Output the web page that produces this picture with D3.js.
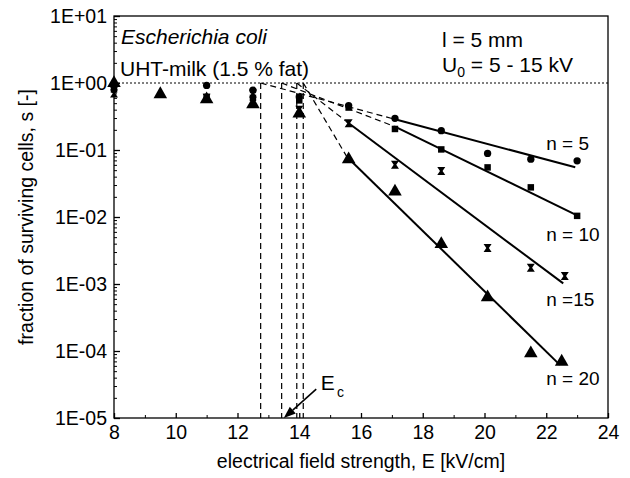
<!DOCTYPE html>
<html>
<head>
<meta charset="utf-8">
<script src="https://cdn.jsdelivr.net/npm/d3@7"></script>
<style>
  body { margin: 0; background: #fff; }
  svg text { font-family: "Liberation Sans", Arial, sans-serif; fill: #000; }
</style>
</head>
<body>
<div id="chart"></div>
<script>
// data
var xTicks = [8, 10, 12, 14, 16, 18, 20, 22, 24];
var yTicks = [1e1, 1e0, 1e-1, 1e-2, 1e-3, 1e-4, 1e-5];
var yTickLabels = ["1E+01", "1E+00", "1E-01", "1E-02", "1E-03", "1E-04", "1E-05"];

// [E kV/cm, surviving fraction]
var n5 = [[8, 0.9], [11, 0.92], [12.5, 0.78], [14, 0.62], [15.6, 0.46], [17.1, 0.297],
          [18.6, 0.194], [20.1, 0.089], [21.5, 0.073], [23.0, 0.069]];
var n10 = [[8, 0.8], [11, 0.62], [12.5, 0.6], [14, 0.55], [15.6, 0.43], [17.1, 0.206],
           [18.6, 0.102], [20.1, 0.055], [21.5, 0.0277], [23.0, 0.0104]];
var n15 = [[8, 0.7], [11, 0.6], [12.5, 0.7], [14, 0.4], [15.6, 0.25], [17.1, 0.06],
           [18.6, 0.0486], [20.1, 0.00345], [21.5, 0.00175], [22.6, 0.00132]];
var n20 = [[8, 1.0], [9.5, 0.68], [11, 0.57], [12.5, 0.48], [14, 0.35], [15.6, 0.0727],
           [17.1, 0.0239], [18.6, 0.00395], [20.1, 0.000633], [21.5, 0.0000924], [22.5, 0.0000692]];

// regression lines (start, end) and critical field strength E_c per pulse number
var fitLabels = ["n = 5", "n = 10", "n =15", "n = 20"];
var fitStart = [[17.1, 0.287], [17.1, 0.223], [15.54, 0.264], [15.54, 0.0795]];
var fitEnd = [[22.94, 0.0552], [22.98, 0.0107], [22.55, 0.00102], [22.44, 0.000062]];
var fitLabelPos = [[22.0, 0.1], [22.0, 0.0044], [22.0, 0.00047], [22.0, 0.000031]];
var Ec = [12.75, 13.43, 13.92, 14.13];

var W = 630, H = 478;
var margin = {top: 16, right: 22, bottom: 60, left: 114};
var width = W - margin.left - margin.right,
    height = H - margin.top - margin.bottom;

var x = d3.scaleLinear().domain([8, 24]).range([0, width]);
var y = d3.scaleLog().domain([1e-5, 1e1]).range([height, 0]);

var svg = d3.select("#chart").append("svg")
    .attr("width", W)
    .attr("height", H);

var g = svg.append("g")
    .attr("transform", "translate(" + margin.left + "," + margin.top + ")");

// frame
g.append("rect")
    .attr("width", width)
    .attr("height", height)
    .attr("fill", "none")
    .attr("stroke", "#000")
    .attr("stroke-width", 1.3);

// y axis: inward ticks, minor every integer multiple
var yMinor = [];
for (var e = -5; e < 1; e++) {
  for (var k = 2; k < 10; k++) yMinor.push(k * Math.pow(10, e));
}
g.append("g")
    .call(d3.axisLeft(y).tickValues(yMinor).tickSize(-3).tickFormat(""))
    .call(function(s) { s.select(".domain").remove(); })
    .selectAll("line").attr("stroke-width", 1);

var yAxis = g.append("g")
    .call(d3.axisLeft(y).tickValues(yTicks).tickSize(-6).tickPadding(10)
      .tickFormat(function(d, i) { return yTickLabels[i]; }));
yAxis.select(".domain").remove();
yAxis.selectAll("line").attr("stroke-width", 1.3);
yAxis.selectAll("text").attr("font-size", 19.5).attr("dx", "3px");

// x axis
g.append("g")
    .attr("transform", "translate(0," + height + ")")
    .call(d3.axisBottom(x).tickValues(d3.range(9, 24, 2)).tickSize(-3).tickFormat(""))
    .call(function(s) { s.select(".domain").remove(); });

var xAxis = g.append("g")
    .attr("transform", "translate(0," + height + ")")
    .call(d3.axisBottom(x).tickValues(xTicks).tickSize(-5).tickPadding(9).tickFormat(d3.format("d")));
xAxis.select(".domain").remove();
xAxis.selectAll("line").attr("stroke-width", 1.3);
xAxis.selectAll("text").attr("font-size", 19.5).attr("dy", "0.6em");

// axis titles
svg.append("text")
    .attr("x", 361)
    .attr("y", 468)
    .attr("text-anchor", "middle")
    .attr("font-size", 19.5)
    .text("electrical field strength, E [kV/cm]");

svg.append("text")
    .attr("transform", "translate(33,217) rotate(-90)")
    .attr("text-anchor", "middle")
    .attr("font-size", 19.5)
    .text("fraction of surviving cells, s [-]");

// s = 1 reference line
g.append("line")
    .attr("x1", 0).attr("x2", width)
    .attr("y1", y(1)).attr("y2", y(1))
    .attr("stroke", "#000")
    .attr("stroke-width", 1)
    .attr("stroke-dasharray", "2,2");

// E_c verticals
g.selectAll(".ec")
    .data(Ec)
    .enter().append("line")
    .attr("class", "ec")
    .attr("x1", function(d) { return x(d); })
    .attr("x2", function(d) { return x(d); })
    .attr("y1", y(1))
    .attr("y2", height)
    .attr("stroke", "#000")
    .attr("stroke-width", 1.2)
    .attr("stroke-dasharray", "6,4");

// dashed extrapolation from E_c to start of fit
g.selectAll(".ext")
    .data(Ec)
    .enter().append("line")
    .attr("class", "ext")
    .attr("x1", function(d) { return x(d); })
    .attr("y1", y(1))
    .attr("x2", function(d, i) { return x(fitStart[i][0]); })
    .attr("y2", function(d, i) { return y(fitStart[i][1]); })
    .attr("stroke", "#000")
    .attr("stroke-width", 1.2)
    .attr("stroke-dasharray", "6,4");

// fitted lines
g.selectAll(".fit")
    .data(fitStart)
    .enter().append("line")
    .attr("class", "fit")
    .attr("x1", function(d) { return x(d[0]); })
    .attr("y1", function(d) { return y(d[1]); })
    .attr("x2", function(d, i) { return x(fitEnd[i][0]); })
    .attr("y2", function(d, i) { return y(fitEnd[i][1]); })
    .attr("stroke", "#000")
    .attr("stroke-width", 2);

g.selectAll(".fitlab")
    .data(fitLabels)
    .enter().append("text")
    .attr("class", "fitlab")
    .attr("x", function(d, i) { return x(fitLabelPos[i][0]); })
    .attr("y", function(d, i) { return y(fitLabelPos[i][1]); })
    .attr("font-size", 19)
    .text(function(d) { return d; });

// markers
var bowtie = "M-4,-4L4,-4L1.3,0L4,4L-4,4L-1.3,0Z";
var series = [
  {data: n5, path: d3.symbol().type(d3.symbolCircle).size(42)()},
  {data: n10, path: d3.symbol().type(d3.symbolSquare).size(42)()},
  {data: n15, path: bowtie},
  {data: n20, path: d3.symbol().type(d3.symbolTriangle).size(80)()}
];
series.forEach(function(s) {
  g.selectAll(null)
      .data(s.data)
      .enter().append("path")
      .attr("d", s.path)
      .attr("transform", function(d) { return "translate(" + x(d[0]) + "," + y(d[1]) + ")"; })
      .attr("fill", "#000");
});

// E_c arrow
var tip = [x(13.5), y(1e-5)], tail = [x(14.55), y(Math.pow(10, -4.57))];
var ang = Math.atan2(tip[1] - tail[1], tip[0] - tail[0]);
var hl = 12, hw = 4.5;
var base = [tip[0] - hl * Math.cos(ang), tip[1] - hl * Math.sin(ang)];
g.append("line")
    .attr("x1", tail[0]).attr("y1", tail[1])
    .attr("x2", base[0]).attr("y2", base[1])
    .attr("stroke", "#000").attr("stroke-width", 1.6);
g.append("path")
    .attr("d", "M" + tip + "L" + [base[0] + hw * Math.sin(ang), base[1] - hw * Math.cos(ang)] +
               "L" + [base[0] - hw * Math.sin(ang), base[1] + hw * Math.cos(ang)] + "Z")
    .attr("fill", "#000");
var ecLab = g.append("text")
    .attr("x", x(14.7))
    .attr("y", y(Math.pow(10, -4.58)))
    .attr("font-size", 21);
ecLab.append("tspan").text("E");
ecLab.append("tspan").attr("font-size", 14).attr("dx", 2).attr("dy", 7).text("c");

// annotations
g.append("text")
    .attr("x", 7).attr("y", 28)
    .attr("font-size", 21)
    .attr("font-style", "italic")
    .text("Escherichia coli");
g.append("text")
    .attr("x", 6).attr("y", 60)
    .attr("font-size", 21)
    .text("UHT-milk (1.5 % fat)");
g.append("text")
    .attr("x", 328).attr("y", 31)
    .attr("font-size", 21)
    .text("l = 5 mm");
var u0 = g.append("text")
    .attr("x", 328).attr("y", 56)
    .attr("font-size", 21);
u0.append("tspan").text("U");
u0.append("tspan").attr("font-size", 14).attr("dy", 5).text("0");
u0.append("tspan").attr("dy", -5).text(" = 5 - 15 kV");
</script>
</body>
</html>
